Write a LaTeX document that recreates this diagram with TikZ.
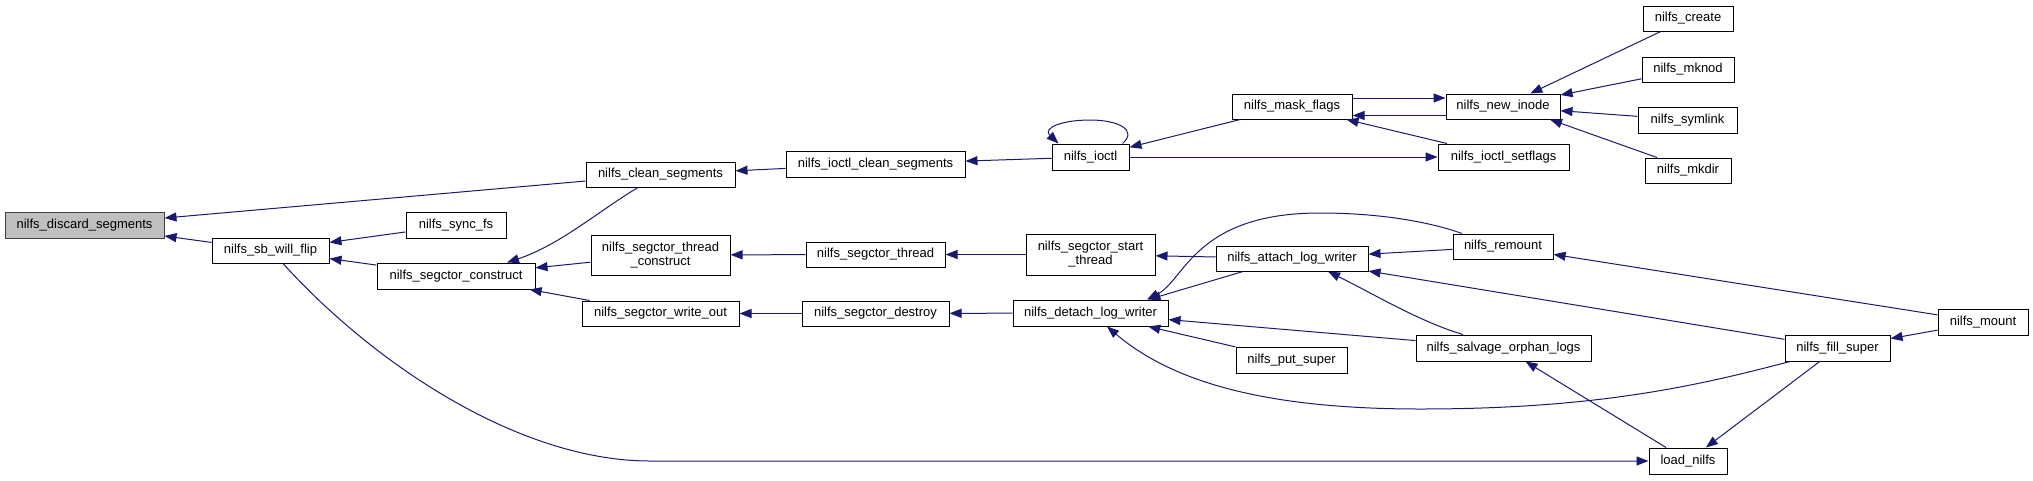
\documentclass[tikz,border=0pt]{standalone}
\usepackage{fontspec}
\setmainfont{Liberation Sans}
\usetikzlibrary{arrows.meta}
\definecolor{edgeblue}{HTML}{191970}
\definecolor{rootgray}{HTML}{BFBFBF}
\definecolor{rootborder}{HTML}{404040}
\begin{document}
\begin{tikzpicture}[x=1pt,y=-1pt,
  fn/.style={draw=black, line width=1pt, fill=white, inner sep=0pt,
    font=\fontsize{13}{14}\selectfont, align=center},
  root/.style={fn, fill=rootgray, draw=rootborder},
  edge/.style={draw=edgeblue, line width=1pt,
    >={Triangle[length=12pt,width=9pt]}}]
\useasboundingbox (0,0) rectangle (2033,480);

\node[root, minimum width=159pt, minimum height=26pt] (discard) at (84.5,225) {nilfs\_discard\_segments};
\node[fn, minimum width=117pt, minimum height=25pt] (sbflip) at (270.5,250.5) {nilfs\_sb\_will\_flip};
\node[fn, minimum width=100pt, minimum height=26pt] (syncfs) at (456,225) {nilfs\_sync\_fs};
\node[fn, minimum width=158pt, minimum height=26pt] (construct) at (456,276) {nilfs\_segctor\_construct};
\node[fn, minimum width=149pt, minimum height=25pt] (clean) at (660.5,174.5) {nilfs\_clean\_segments};
\node[fn, minimum width=179pt, minimum height=26pt] (ioctlclean) at (875.5,164) {nilfs\_ioctl\_clean\_segments};
\node[fn, minimum width=139pt, minimum height=40pt] (threadconstruct) at (660.5,255) {nilfs\_segctor\_thread\\\_construct};
\node[fn, minimum width=157pt, minimum height=25pt] (writeout) at (660.5,313.5) {nilfs\_segctor\_write\_out};
\node[fn, minimum width=139pt, minimum height=25pt] (thread) at (875.5,254.5) {nilfs\_segctor\_thread};
\node[fn, minimum width=147pt, minimum height=25pt] (destroy) at (875.5,313.5) {nilfs\_segctor\_destroy};
\node[fn, minimum width=77pt, minimum height=26pt] (ioctl) at (1090.5,157) {nilfs\_ioctl};
\node[fn, minimum width=120pt, minimum height=25pt] (maskflags) at (1292,106.5) {nilfs\_mask\_flags};
\node[fn, minimum width=129pt, minimum height=41pt] (startthread) at (1090.5,254.5) {nilfs\_segctor\_start\\\_thread};
\node[fn, minimum width=155pt, minimum height=26pt] (detach) at (1090.5,313) {nilfs\_detach\_log\_writer};
\node[fn, minimum width=152pt, minimum height=25pt] (attach) at (1292,258.5) {nilfs\_attach\_log\_writer};
\node[fn, minimum width=111pt, minimum height=26pt] (putsuper) at (1291.5,360) {nilfs\_put\_super};
\node[fn, minimum width=114pt, minimum height=25pt] (newinode) at (1503,106.5) {nilfs\_new\_inode};
\node[fn, minimum width=131pt, minimum height=26pt] (setflags) at (1503.5,157) {nilfs\_ioctl\_setflags};
\node[fn, minimum width=100pt, minimum height=25pt] (remount) at (1503,246.5) {nilfs\_remount};
\node[fn, minimum width=175pt, minimum height=26pt] (salvage) at (1503.5,348) {nilfs\_salvage\_orphan\_logs};
\node[fn, minimum width=90pt, minimum height=25pt] (create) at (1688,18.5) {nilfs\_create};
\node[fn, minimum width=92pt, minimum height=25pt] (mknod) at (1688,69.5) {nilfs\_mknod};
\node[fn, minimum width=99pt, minimum height=26pt] (symlink) at (1687.5,120) {nilfs\_symlink};
\node[fn, minimum width=86pt, minimum height=25pt] (mkdir) at (1688,170.5) {nilfs\_mkdir};
\node[fn, minimum width=105pt, minimum height=26pt] (fillsuper) at (1837.5,348) {nilfs\_fill\_super};
\node[fn, minimum width=78pt, minimum height=26pt] (loadnilfs) at (1688,461) {load\_nilfs};
\node[fn, minimum width=90pt, minimum height=26pt] (mount) at (1983,322) {nilfs\_mount};

\draw[edge,<-] (discard) -- (clean);
\draw[edge,<-] (discard) -- (sbflip);
\draw[edge,<-] (sbflip) -- (syncfs);
\draw[edge,<-] (sbflip) -- (construct);
\draw[edge,->] ([xshift=12.5pt]sbflip.south) .. controls (375,365) and (520,461) .. (650,461) -- (loadnilfs.west);
\draw[edge,<-] ([xshift=51pt]construct.north) .. controls (560,245) and (600,210) .. ([xshift=-22.5pt]clean.south);
\draw[edge,<-] (construct) -- (threadconstruct);
\draw[edge,<-] (construct) -- (writeout);
\draw[edge,<-] (clean) -- (ioctlclean);
\draw[edge,<-] (ioctlclean) -- (ioctl);
\draw[edge,->] ([xshift=32pt]ioctl.north) .. controls (1138,130) and (1118,120) .. (1090,120) .. controls (1062,120) and (1042,128) .. ([xshift=-32pt]ioctl.north);
\draw[edge,<-] (ioctl) -- (maskflags);
\draw[edge,->] (ioctl) -- (setflags);
\draw[edge,->] ([yshift=8.5pt]maskflags.east) -- ([yshift=8.5pt]newinode.west);
\draw[edge,<-] ([yshift=-9pt]maskflags.east) -- ([yshift=-9pt]newinode.west);
\draw[edge,<-] (maskflags) -- (setflags);
\draw[edge,<-] (newinode) -- (create);
\draw[edge,<-] (newinode) -- (mknod);
\draw[edge,<-] (newinode) -- (symlink);
\draw[edge,<-] ([xshift=47pt]newinode.south) -- ([xshift=-31pt]mkdir.north);
\draw[edge,<-] (threadconstruct) -- (thread);
\draw[edge,<-] (thread) -- (startthread);
\draw[edge,<-] (startthread) -- (attach);
\draw[edge,<-] (writeout) -- (destroy);
\draw[edge,<-] (destroy) -- (detach);
\draw[edge,<-] ([xshift=56.5pt]detach.north) .. controls (1185,280) and (1195,213) .. (1320,213) .. controls (1380,213) and (1430,222) .. ([xshift=-41pt]remount.north);
\draw[edge,<-] ([xshift=58pt]detach.north) -- ([xshift=-49pt]attach.south);
\draw[edge,<-] (detach) -- (salvage);
\draw[edge,<-] (detach) -- (putsuper);
\draw[edge,<-] ([xshift=16.5pt]detach.south) .. controls (1170,380) and (1260,409) .. (1420,409) .. controls (1600,409) and (1700,385) .. ([xshift=-47.5pt]fillsuper.south);
\draw[edge,<-] (attach) -- (remount);
\draw[edge,<-] (attach) -- (fillsuper);
\draw[edge,<-] ([xshift=36pt]attach.south) .. controls (1370,292) and (1420,322) .. ([xshift=-40.5pt]salvage.north);
\draw[edge,<-] (remount) -- (mount);
\draw[edge,<-] (fillsuper) -- (mount);
\draw[edge,<-] (loadnilfs) -- (fillsuper);
\draw[edge,<-] (salvage) -- (loadnilfs);
\end{tikzpicture}
\end{document}
